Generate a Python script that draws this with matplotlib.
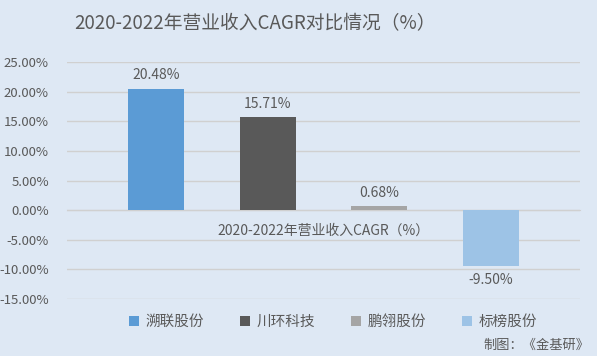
import matplotlib
matplotlib.use('Agg')
import matplotlib.pyplot as plt
import matplotlib.ticker as mticker

plt.rcParams['font.family'] = ['Noto Sans CJK SC', 'DejaVu Sans']

companies = ['溯联股份', '川环科技', '鹏翎股份', '标榜股份']
cagr = [20.48, 15.71, 0.68, -9.50]
colors = ['#5B9BD5', '#595959', '#A5A5A5', '#9DC3E6']
category = '2020-2022年营业收入CAGR（%）'
title = '2020-2022年营业收入CAGR对比情况（%）'
y_ticks = [-15, -10, -5, 0, 5, 10, 15, 20, 25]

bg = '#DEE8F4'
txt = '#595959'
W, H = 597, 356

fig = plt.figure(figsize=(W / 100, H / 100), dpi=100, facecolor=bg)
ax = fig.add_axes([67 / W, 1 - 299 / H, (580 - 67) / W, (299 - 62) / H])
ax.set_facecolor(bg)

x = list(range(len(cagr)))
bars = ax.bar(x, cagr, width=0.5, color=colors, label=companies, zorder=3)

for xi, v in zip(x, cagr):
    off = 1.1 if v >= 0 else -1.1
    ax.text(xi, v + off, f'{v:.2f}%', ha='center',
            va='bottom' if v >= 0 else 'top', fontsize=10, color=txt)

ax.set_xlim(-0.797, 3.797)
ax.set_ylim(-15, 25)
ax.set_yticks(y_ticks)
ax.yaxis.set_major_formatter(mticker.FuncFormatter(lambda v, p: f'{v:.2f}%'))
ax.tick_params(axis='y', length=0, labelsize=9.5, labelcolor=txt, pad=13)
ax.grid(axis='y', color='#D0D0D0', linewidth=1, zorder=0)
for s in ['top', 'right', 'left']:
    ax.spines[s].set_visible(False)
ax.spines['bottom'].set_position(('data', 0))
ax.spines['bottom'].set_color('#D0D0D0')
ax.set_xticks([1.5])
ax.set_xticklabels([category])
ax.tick_params(axis='x', length=0, labelsize=10, labelcolor=txt, pad=10)

fig.text(255 / W, 1 - 24 / H, title, ha='center', va='center',
         fontsize=13.5, color=txt)

leg = fig.legend(handles=bars, labels=companies, loc='center',
                 bbox_to_anchor=(333 / W, 1 - 322 / H), ncol=4, frameon=False,
                 handlelength=0.7, handleheight=0.7, handletextpad=0.45,
                 columnspacing=2.45, fontsize=10.5)
for t in leg.get_texts():
    t.set_color(txt)

fig.text(589 / W, 1 - 345 / H, '制图：《金基研》', ha='right', va='center',
         fontsize=9.5, color=txt)

fig.savefig('out.png', dpi=100, facecolor=bg)
